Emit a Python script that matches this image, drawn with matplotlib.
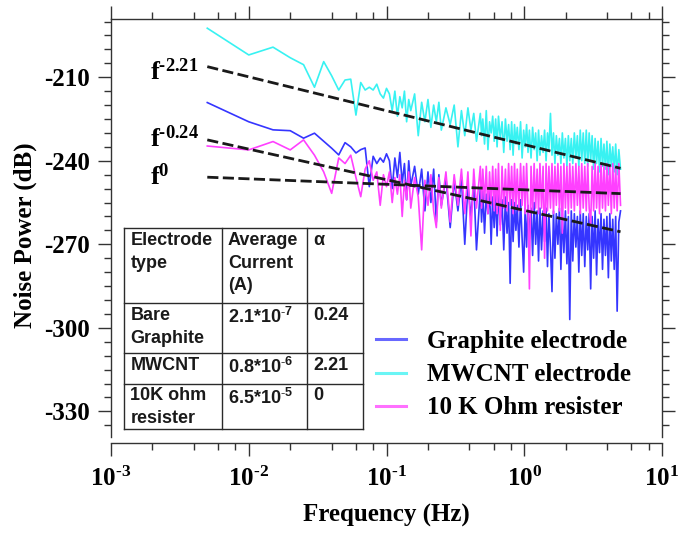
import matplotlib.pyplot as plt
from matplotlib.ticker import LogLocator, FixedLocator, MultipleLocator, FuncFormatter, NullFormatter
import numpy as np

plt.rcParams['font.family'] = 'Liberation Serif'
plt.rcParams['font.weight'] = 'bold'
plt.rcParams['axes.unicode_minus'] = False
plt.rcParams['mathtext.fontset'] = 'custom'
plt.rcParams['mathtext.rm'] = 'Liberation Serif:bold'
plt.rcParams['mathtext.bf'] = 'Liberation Serif:bold'
plt.rcParams['mathtext.sf'] = 'Liberation Sans:bold'

# frequency points (Hz), shared by the three spectra
freq = [0.005, 0.010, 0.015, 0.020, 0.025, 0.030, 0.035, 0.040, 0.045, 0.050,
        0.055, 0.060, 0.065, 0.070, 0.075, 0.080, 0.085, 0.090, 0.095, 0.100,
        0.105, 0.110, 0.115, 0.120, 0.125, 0.130, 0.135, 0.140, 0.145, 0.150,
        0.16, 0.17, 0.18, 0.19, 0.20, 0.21, 0.22, 0.23, 0.24, 0.25,
        0.27, 0.29, 0.31, 0.33, 0.35, 0.37, 0.39, 0.41, 0.43, 0.45,
        0.48, 0.49, 0.50, 0.515, 0.53, 0.545, 0.56, 0.575, 0.59, 0.605,
        0.62, 0.635, 0.65, 0.67, 0.69, 0.71, 0.73, 0.75, 0.77, 0.79,
        0.81, 0.83, 0.85, 0.87, 0.89, 0.915, 0.94, 0.965, 0.99, 1.015,
        1.04, 1.065, 1.09, 1.12, 1.15, 1.18, 1.21, 1.24, 1.27, 1.30,
        1.335, 1.37, 1.405, 1.44, 1.475, 1.51, 1.55, 1.59, 1.63, 1.67,
        1.71, 1.755, 1.80, 1.845, 1.89, 1.94, 1.99, 2.04, 2.09, 2.14,
        2.195, 2.25, 2.31, 2.37, 2.43, 2.49, 2.55, 2.615, 2.68, 2.75,
        2.82, 2.89, 2.96, 3.035, 3.11, 3.19, 3.27, 3.35, 3.435, 3.52,
        3.61, 3.70, 3.79, 3.885, 3.98, 4.08, 4.18, 4.285, 4.39, 4.50,
        4.61, 4.725, 4.86, 5.00]

# noise power (dB)
graphite_db = [-219.1, -226.0, -228.9, -229.2, -231.9, -230.1, -233.0, -235.5, -237.9, -233.5,
               -235.0, -237.2, -236.0, -235.4, -249.3, -238.4, -241.0, -239.0, -240.5, -237.5,
               -240, -250, -239, -246, -237, -248, -241, -254, -240, -249,
               -242, -252, -243, -258, -244, -255, -243, -262, -245, -256,
               -246, -264, -247, -258, -246, -270, -249, -260, -248, -272,
               -250, -262, -251, -266, -252, -259, -250, -270, -253, -264,
               -252, -267, -251, -263, -254, -272, -253, -266, -255, -284,
               -254, -269, -255, -265, -256, -271, -254, -268, -280, -257,
               -271, -256, -268, -257, -274, -255, -270, -258, -276, -257,
               -272, -258, -269, -257, -278, -259, -271, -287, -258, -275,
               -259, -270, -257, -279, -259, -273, -258, -277, -260, -297,
               -258, -276, -259, -271, -260, -280, -258, -274, -259, -278,
               -260, -272, -259, -286, -260, -275, -258, -281, -261, -273,
               -259, -279, -261, -274, -260, -282, -259, -276, -261, -279,
               -260, -294, -262, -258]

mwcnt_db = [-192.4, -202.0, -199.2, -203.0, -205.5, -213.6, -204.4, -209.5, -214.6, -211.0,
            -210.7, -223.6, -211.9, -214.6, -213.6, -214.6, -212.5, -216.0, -217.5, -214.0,
            -216, -222, -215, -224, -217, -221, -215, -226, -218, -222,
            -216, -231, -219, -226, -218, -228, -220, -226, -219, -229,
            -221, -227, -220, -235, -222, -231, -221, -229, -223, -233,
            -223, -231, -225, -234, -222, -236, -226, -230, -224, -233,
            -225, -235, -224, -232, -226, -237, -225, -233, -227, -236,
            -226, -238, -227, -234, -228, -236, -226, -239, -229, -235,
            -227, -237, -229, -239, -228, -236, -230, -240, -229, -238,
            -231, -237, -229, -240, -230, -236, -223, -238, -230, -241,
            -231, -238, -232, -241, -230, -239, -232, -242, -231, -240,
            -232, -241, -230, -239, -231, -242, -229, -240, -230, -241,
            -229, -242, -230, -240, -231, -243, -232, -241, -233, -244,
            -232, -242, -234, -243, -233, -245, -234, -242, -235, -244,
            -234, -245, -236, -243]

resistor_db = [-234.7, -236.1, -233.1, -236.1, -232.5, -238.0, -244.0, -251.7, -239.0, -241.0,
               -238.0, -246.0, -252.9, -243.0, -240.0, -247.0, -244.0, -256.0, -245.0, -249.3,
               -244, -255, -246, -252, -245, -260, -247, -254, -244, -257,
               -246, -253, -272, -247, -256, -245, -258, -264, -246, -257,
               -244, -262, -245, -256, -243, -259, -244, -267, -243, -257,
               -242, -257, -243, -255, -242, -259, -244, -256, -242, -258,
               -243, -259, -241, -265, -242, -257, -243, -258, -241, -256,
               -242, -259, -241, -257, -243, -258, -241, -256, -242, -259,
               -241, -257, -286, -242, -258, -241, -257, -243, -259, -241,
               -257, -242, -275, -241, -258, -242, -257, -241, -259, -242,
               -256, -241, -258, -242, -266, -241, -257, -242, -259, -241,
               -257, -242, -258, -241, -256, -242, -259, -241, -257, -242,
               -258, -241, -257, -263, -242, -258, -241, -257, -242, -259,
               -241, -257, -242, -258, -241, -256, -242, -259, -241, -257,
               -242, -258, -241, -256]

series_labels = ["Graphite electrode", "MWCNT electrode", "10 K Ohm resister"]

# power-law fits (end points of the dashed lines)
fit_freq = [0.005, 5.0]
fit_mwcnt = [-206.2, -242.7]
fit_graphite = [-232.5, -265.5]
fit_resistor = [-245.9, -251.8]
fit_labels = [r'$\mathbf{f^{\text{-}2.21}}$', r'$\mathbf{f^{\text{-}0.24}}$', r'$\mathbf{f^{0}}$']

# inset table
table_rows = [["Electrode\ntype", "Average\nCurrent\n(A)", "α"],
              ["Bare\nGraphite", r"2.1*10$^{\text{-}\mathsf{7}}$", "0.24"],
              ["MWCNT", r"0.8*10$^{\text{-}\mathsf{6}}$", "2.21"],
              ["10K ohm\nresister", r"6.5*10$^{\text{-}\mathsf{5}}$", "0"]]

y_ticks = [-330, -300, -270, -240, -210]

# layout in pixels of the 694x533 picture
W, H = 694, 533
AX_L, AX_R, AX_T, AX_B = 111, 662, 19.3, 437


def ax_x(px):
    return (px - AX_L) / (AX_R - AX_L)


def ax_y(py):
    return (AX_B - py) / (AX_B - AX_T)


def xtick_label(v, pos):
    e = int(round(np.log10(v)))
    if e < 0:
        return r'$\mathbf{10^{\text{-}%d}}$' % (-e)
    return r'$\mathbf{10^{%d}}$' % e


def draw_table(ax):
    col_edges = [124.3, 222, 307, 363.3]
    row_edges = [228.3, 303.3, 353, 383.5, 429.3]
    kw = dict(transform=ax.transAxes, color='#2a2a2a', lw=1.0, clip_on=False, zorder=6)
    for cx in col_edges:
        ax.plot([ax_x(cx), ax_x(cx)], [ax_y(row_edges[0]), ax_y(row_edges[-1])], **kw)
    for ry in row_edges:
        ax.plot([ax_x(col_edges[0]), ax_x(col_edges[-1])], [ax_y(ry), ax_y(ry)], **kw)
    for r, row in enumerate(table_rows):
        for c, txt in enumerate(row):
            ax.text(ax_x(col_edges[c] + 6), ax_y(row_edges[r] + 4), txt,
                    transform=ax.transAxes, ha='left', va='top', fontsize=13,
                    family='Liberation Sans', fontweight='bold',
                    linespacing=1.4, color='#1a1a1a', zorder=6)


def create_plot():
    fig = plt.figure(figsize=(W / 100, H / 100), dpi=100)
    ax = fig.add_axes([AX_L / W, 1 - AX_B / H, (AX_R - AX_L) / W, (AX_B - AX_T) / H])

    # spectra
    l1, = ax.plot(freq, graphite_db, color='#3535ff', lw=1.2, label=series_labels[0])
    l2, = ax.plot(freq, mwcnt_db, color='#38f2f2', lw=1.2, label=series_labels[1])
    l3, = ax.plot(freq, resistor_db, color='#ff40ff', lw=1.2, label=series_labels[2])

    # dashed fits
    for fit in (fit_mwcnt, fit_graphite, fit_resistor):
        ax.plot(fit_freq, fit, color='#1a1a1a', lw=2.0, dashes=(4, 1.6), zorder=5)
    for lab, base in zip(fit_labels, [80, 147, 185]):
        ax.text(ax_x(150), ax_y(base), lab, transform=ax.transAxes,
                fontsize=19, va='baseline', ha='left')

    # axes
    ax.set_xscale('log')
    ax.set_xlim(1e-3, 1e1)
    ax.set_ylim(-339.2, -189.2)
    ax.xaxis.set_major_locator(LogLocator(base=10))
    ax.xaxis.set_minor_locator(LogLocator(base=10, subs=(2, 4, 6, 8)))
    ax.xaxis.set_minor_formatter(NullFormatter())
    ax.xaxis.set_major_formatter(FuncFormatter(xtick_label))
    ax.yaxis.set_major_locator(FixedLocator(y_ticks))
    ax.yaxis.set_minor_locator(MultipleLocator(5))

    ax.tick_params(which='both', direction='out', top=True, right=True,
                   width=1.0, color='#333333', labelsize=18)
    ax.tick_params(which='major', length=9.4)
    ax.tick_params(which='minor', length=5.2)
    ax.tick_params(axis='x', pad=8)
    ax.tick_params(axis='y', pad=6)
    for s in ax.spines.values():
        s.set_linewidth(1.0)
        s.set_color('#333333')
    ax.spines['bottom'].set_position(('outward', 4.3))

    ax.set_xlabel("Frequency (Hz)", fontsize=18, fontweight='bold', va='center')
    ax.xaxis.set_label_coords(0.5, ax_y(515))
    ax.set_ylabel("Noise Power (dB)", fontsize=18, fontweight='bold', va='center')
    ax.yaxis.set_label_coords(ax_x(25), ax_y(235.5))

    # legend
    leg = ax.legend(handles=[l1, l2, l3], loc='upper left',
                    bbox_to_anchor=(ax_x(376), ax_y(330)), frameon=False,
                    borderpad=0, borderaxespad=0, handlelength=1.2,
                    handletextpad=0.85, labelspacing=0.41,
                    prop={'family': 'Liberation Serif', 'weight': 'bold', 'size': 18})
    for h in leg.get_lines():
        h.set_linewidth(2.2)
        h.set_alpha(0.75)

    draw_table(ax)
    fig.savefig("out.png", dpi=100)


def main():
    assert len(freq) == len(graphite_db) == len(mwcnt_db) == len(resistor_db)
    create_plot()


main()
